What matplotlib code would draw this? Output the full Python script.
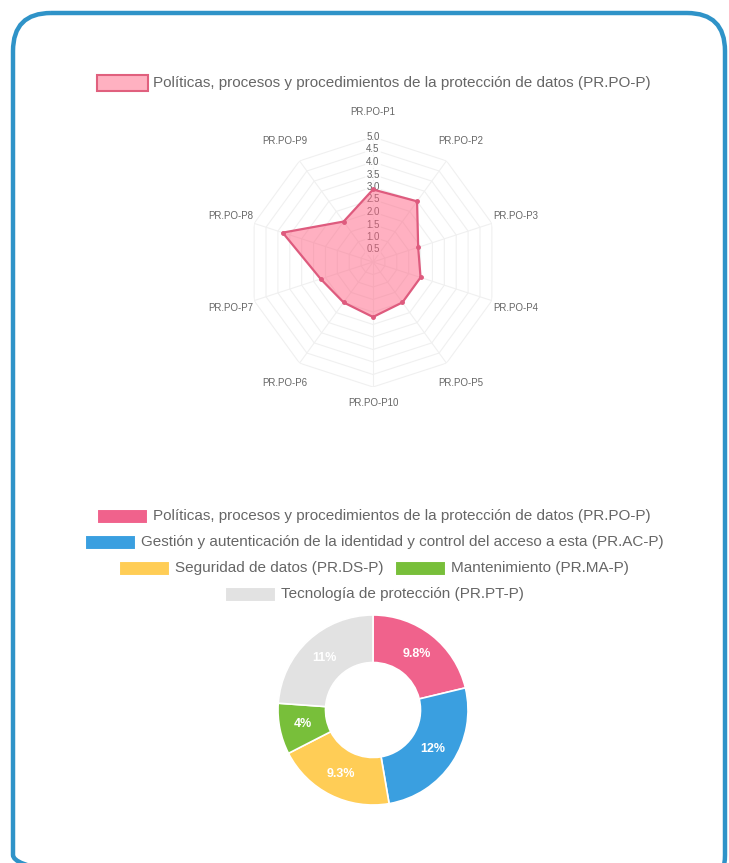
import numpy as np
import matplotlib
matplotlib.use("Agg")
import matplotlib.pyplot as plt
from matplotlib.patches import FancyBboxPatch, Rectangle

plt.rcParams["font.family"] = ["Liberation Sans", "DejaVu Sans"]

# radar data
radar_title = "Políticas, procesos y procedimientos de la protección de datos (PR.PO-P)"
radar_labels = ["PR.PO-P1", "PR.PO-P2", "PR.PO-P3", "PR.PO-P4", "PR.PO-P5",
                "PR.PO-P10", "PR.PO-P6", "PR.PO-P7", "PR.PO-P8", "PR.PO-P9"]
radar_values = [2.9, 3.0, 1.9, 2.0, 2.0, 2.2, 2.0, 2.2, 3.8, 2.0]
radar_ticks = [0.5, 1.0, 1.5, 2.0, 2.5, 3.0, 3.5, 4.0, 4.5, 5.0]

# doughnut data
donut_labels = [
    "Políticas, procesos y procedimientos de la protección de datos (PR.PO-P)",
    "Gestión y autenticación de la identidad y control del acceso a esta (PR.AC-P)",
    "Seguridad de datos (PR.DS-P)",
    "Mantenimiento (PR.MA-P)",
    "Tecnología de protección (PR.PT-P)",
]
donut_values = [9.8, 12, 9.3, 4, 11]
donut_text = ["9.8%", "12%", "9.3%", "4%", "11%"]
donut_colors = ["#f0628c", "#3a9fe0", "#ffcd56", "#78bf3a", "#e2e2e2"]

W, H = 729, 863
fig = plt.figure(figsize=(W / 100, H / 100), dpi=100)

# background overlay in pixel coordinates
bg = fig.add_axes([0, 0, 1, 1])
bg.set_xlim(0, W)
bg.set_ylim(H, 0)
bg.axis("off")
bg.add_patch(FancyBboxPatch((13, 13), 712, 880, boxstyle="round,pad=0,rounding_size=38",
                            fill=False, ec="#2f93c8", lw=3.2, clip_on=False))

text_kw = dict(fontsize=11, color="#666666", va="center")


def legend_row(items, y, cx=374, box_w=51, box_h=15, gap=5, sep=12):
    # measure widths then center the row
    r = fig.canvas.get_renderer()
    widths = []
    for label, _, _ in items:
        t = bg.text(0, 0, label, **text_kw)
        bb = t.get_window_extent(renderer=r)
        widths.append(bb.width)
        t.remove()
    total = sum(box_w + gap + w for w in widths) + sep * (len(items) - 1)
    x = cx - total / 2
    for (label, fc, ec), w in zip(items, widths):
        bg.add_patch(Rectangle((x, y - box_h / 2), box_w, box_h, fc=fc, ec=ec, lw=1.5))
        bg.text(x + box_w + gap, y, label, **text_kw)
        x += box_w + gap + w + sep


# radar legend
legend_row([(radar_title, "#ffb1c1", "#e0607e")], 83, box_h=16)

# radar chart
cx, cy, R = 373, 262, 125
rax = fig.add_axes([(cx - R) / W, (H - cy - R) / H, 2 * R / W, 2 * R / H], projection="polar")
rax.set_theta_zero_location("N")
rax.set_theta_direction(-1)
rax.set_ylim(0, 5)
rax.grid(False)
rax.spines["polar"].set_visible(False)
rax.set_xticks([])
rax.set_yticks([])
rax.patch.set_alpha(0)

n = len(radar_labels)
theta = np.arange(n) * 2 * np.pi / n
theta_c = np.append(theta, theta[0])
for tv in radar_ticks:
    rax.plot(theta_c, [tv] * (n + 1), color="#f0f0f0", lw=0.8, zorder=1)
for th in theta:
    rax.plot([th, th], [0, 5], color="#f0f0f0", lw=0.8, zorder=1)
for tv in radar_ticks:
    rax.text(0, tv, f"{tv:.1f}", fontsize=7, color="#666666", ha="center", va="center",
             zorder=2, bbox=dict(boxstyle="square,pad=0.1", fc="white", ec="none", alpha=0.75))

vals = np.append(radar_values, radar_values[0])
rax.fill(theta_c, vals, color="#ff6384", alpha=0.5, zorder=3, lw=0)
rax.plot(theta_c, vals, color="#de5b7e", lw=1.6, zorder=4)
rax.plot(theta, radar_values, "o", color="#de5b7e", ms=2.5, zorder=5)

for th, lab in zip(theta, radar_labels):
    rr = 5.65 if abs(th - np.pi) < 0.01 else 6.0
    rax.text(th, rr, lab, fontsize=7, color="#666666", ha="center", va="center", clip_on=False)

# doughnut legend
legend_row([(donut_labels[0], donut_colors[0], "white")], 516)
legend_row([(donut_labels[1], donut_colors[1], "white")], 542)
legend_row([(donut_labels[2], donut_colors[2], "white"),
            (donut_labels[3], donut_colors[3], "white")], 568)
legend_row([(donut_labels[4], donut_colors[4], "white")], 594)

# doughnut chart
dx, dy, dr = 373, 710, 95
dax = fig.add_axes([(dx - dr) / W, (H - dy - dr) / H, 2 * dr / W, 2 * dr / H])
wedges, _ = dax.pie(donut_values, colors=donut_colors, startangle=90, counterclock=False,
                    radius=1, wedgeprops=dict(width=0.5, edgecolor="white", linewidth=1.2))
dax.set_xlim(-1, 1)
dax.set_ylim(-1, 1)
total = sum(donut_values)
start = 90.0
for v, lab in zip(donut_values, donut_text):
    ang = np.deg2rad(start - v / total * 180)
    dax.text(0.75 * np.cos(ang), 0.75 * np.sin(ang), lab, color="white", fontsize=9,
             fontweight="bold", ha="center", va="center")
    start -= v / total * 360

fig.savefig("out.png", dpi=100)
